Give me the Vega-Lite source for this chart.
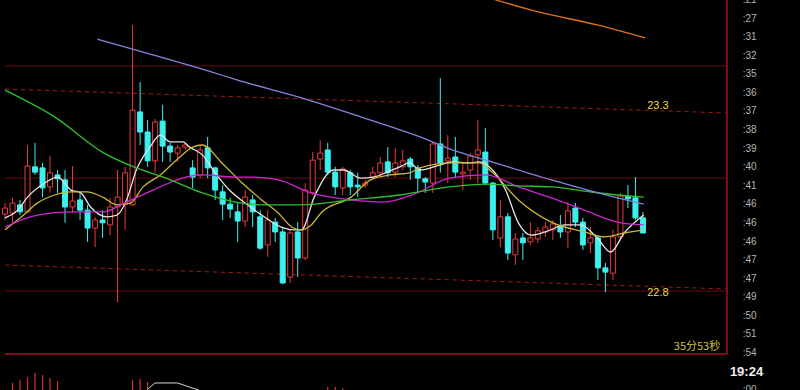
{
  "$schema": "https://vega.github.io/schema/vega-lite/v6.json",
  "width": 800,
  "height": 390,
  "autosize": {"type": "none"},
  "padding": 0,
  "background": "#000000",
  "config": {"view": {"stroke": null}},
  "datasets": {
    "candles": [
      {"i":0,"o":23.007,"c":23.024,"h":23.038,"l":22.990,"d":"up"},
      {"i":1,"o":23.010,"c":23.038,"h":23.053,"l":22.982,"d":"up"},
      {"i":2,"o":23.033,"c":23.013,"h":23.047,"l":23.004,"d":"down"},
      {"i":3,"o":23.013,"c":23.143,"h":23.203,"l":23.010,"d":"up"},
      {"i":4,"o":23.141,"c":23.126,"h":23.209,"l":23.118,"d":"down"},
      {"i":5,"o":23.138,"c":23.081,"h":23.152,"l":23.055,"d":"down"},
      {"i":6,"o":23.084,"c":23.124,"h":23.172,"l":23.067,"d":"up"},
      {"i":7,"o":23.118,"c":23.107,"h":23.132,"l":23.067,"d":"down"},
      {"i":8,"o":23.104,"c":23.027,"h":23.132,"l":22.982,"d":"down"},
      {"i":9,"o":23.027,"c":23.044,"h":23.143,"l":23.010,"d":"up"},
      {"i":10,"o":23.047,"c":23.018,"h":23.067,"l":22.990,"d":"down"},
      {"i":11,"o":23.018,"c":22.967,"h":23.033,"l":22.928,"d":"down"},
      {"i":12,"o":22.967,"c":22.990,"h":22.999,"l":22.913,"d":"up"},
      {"i":13,"o":22.990,"c":22.982,"h":23.018,"l":22.939,"d":"down"},
      {"i":14,"o":22.976,"c":23.027,"h":23.053,"l":22.947,"d":"up"},
      {"i":15,"o":23.027,"c":23.055,"h":23.132,"l":22.757,"d":"up"},
      {"i":16,"o":23.035,"c":23.124,"h":23.141,"l":22.962,"d":"up"},
      {"i":17,"o":23.033,"c":23.302,"h":23.544,"l":23.030,"d":"up"},
      {"i":18,"o":23.297,"c":23.240,"h":23.382,"l":23.203,"d":"down"},
      {"i":19,"o":23.240,"c":23.158,"h":23.274,"l":23.141,"d":"down"},
      {"i":20,"o":23.158,"c":23.268,"h":23.277,"l":23.124,"d":"up"},
      {"i":21,"o":23.271,"c":23.200,"h":23.317,"l":23.155,"d":"down"},
      {"i":22,"o":23.200,"c":23.183,"h":23.209,"l":23.155,"d":"down"},
      {"i":23,"o":23.180,"c":23.195,"h":23.203,"l":23.155,"d":"up"},
      {"i":24,"o":23.197,"c":23.203,"h":23.209,"l":23.189,"d":"up"},
      {"i":25,"o":23.138,"c":23.112,"h":23.160,"l":23.081,"d":"down"},
      {"i":26,"o":23.118,"c":23.189,"h":23.203,"l":23.109,"d":"up"},
      {"i":27,"o":23.195,"c":23.138,"h":23.226,"l":23.109,"d":"down"},
      {"i":28,"o":23.138,"c":23.075,"h":23.141,"l":23.047,"d":"down"},
      {"i":29,"o":23.070,"c":23.035,"h":23.089,"l":22.990,"d":"down"},
      {"i":30,"o":23.035,"c":23.021,"h":23.053,"l":22.996,"d":"down"},
      {"i":31,"o":23.013,"c":22.987,"h":23.038,"l":22.928,"d":"down"},
      {"i":32,"o":22.987,"c":23.055,"h":23.075,"l":22.970,"d":"up"},
      {"i":33,"o":23.047,"c":23.013,"h":23.061,"l":22.970,"d":"down"},
      {"i":34,"o":22.999,"c":22.910,"h":23.018,"l":22.905,"d":"down"},
      {"i":35,"o":22.919,"c":22.990,"h":23.018,"l":22.885,"d":"up"},
      {"i":36,"o":22.984,"c":22.956,"h":22.996,"l":22.928,"d":"down"},
      {"i":37,"o":22.956,"c":22.811,"h":22.967,"l":22.808,"d":"down"},
      {"i":38,"o":22.828,"c":22.953,"h":22.962,"l":22.811,"d":"up"},
      {"i":39,"o":22.956,"c":22.882,"h":22.984,"l":22.828,"d":"down"},
      {"i":40,"o":22.882,"c":23.075,"h":23.095,"l":22.876,"d":"up"},
      {"i":41,"o":23.067,"c":23.160,"h":23.183,"l":23.061,"d":"up"},
      {"i":42,"o":23.163,"c":23.180,"h":23.217,"l":23.132,"d":"up"},
      {"i":43,"o":23.189,"c":23.126,"h":23.209,"l":23.118,"d":"down"},
      {"i":44,"o":23.126,"c":23.084,"h":23.141,"l":23.061,"d":"down"},
      {"i":45,"o":23.081,"c":23.135,"h":23.141,"l":23.061,"d":"up"},
      {"i":46,"o":23.124,"c":23.084,"h":23.132,"l":23.061,"d":"down"},
      {"i":47,"o":23.089,"c":23.084,"h":23.124,"l":23.055,"d":"down"},
      {"i":48,"o":23.089,"c":23.095,"h":23.104,"l":23.081,"d":"up"},
      {"i":49,"o":23.112,"c":23.124,"h":23.141,"l":23.104,"d":"up"},
      {"i":50,"o":23.124,"c":23.152,"h":23.169,"l":23.112,"d":"up"},
      {"i":51,"o":23.155,"c":23.124,"h":23.197,"l":23.112,"d":"down"},
      {"i":52,"o":23.126,"c":23.152,"h":23.195,"l":23.112,"d":"up"},
      {"i":53,"o":23.141,"c":23.158,"h":23.189,"l":23.132,"d":"up"},
      {"i":54,"o":23.163,"c":23.141,"h":23.169,"l":23.104,"d":"down"},
      {"i":55,"o":23.138,"c":23.109,"h":23.146,"l":23.070,"d":"down"},
      {"i":56,"o":23.107,"c":23.098,"h":23.112,"l":23.067,"d":"down"},
      {"i":57,"o":23.095,"c":23.206,"h":23.212,"l":23.067,"d":"up"},
      {"i":58,"o":23.206,"c":23.152,"h":23.393,"l":23.124,"d":"down"},
      {"i":59,"o":23.158,"c":23.166,"h":23.231,"l":23.095,"d":"up"},
      {"i":60,"o":23.169,"c":23.126,"h":23.226,"l":23.109,"d":"down"},
      {"i":61,"o":23.121,"c":23.126,"h":23.152,"l":23.075,"d":"up"},
      {"i":62,"o":23.132,"c":23.172,"h":23.180,"l":23.104,"d":"up"},
      {"i":63,"o":23.175,"c":23.189,"h":23.274,"l":23.095,"d":"up"},
      {"i":64,"o":23.183,"c":23.095,"h":23.251,"l":23.089,"d":"down"},
      {"i":65,"o":23.095,"c":22.962,"h":23.098,"l":22.933,"d":"down"},
      {"i":66,"o":22.939,"c":22.999,"h":23.047,"l":22.913,"d":"up"},
      {"i":67,"o":22.999,"c":22.896,"h":23.010,"l":22.876,"d":"down"},
      {"i":68,"o":22.891,"c":22.936,"h":22.953,"l":22.862,"d":"up"},
      {"i":69,"o":22.939,"c":22.925,"h":22.953,"l":22.876,"d":"down"},
      {"i":70,"o":22.928,"c":22.939,"h":22.984,"l":22.919,"d":"up"},
      {"i":71,"o":22.936,"c":22.959,"h":22.970,"l":22.925,"d":"up"},
      {"i":72,"o":22.956,"c":22.970,"h":22.984,"l":22.942,"d":"up"},
      {"i":73,"o":22.962,"c":22.979,"h":22.990,"l":22.933,"d":"up"},
      {"i":74,"o":22.973,"c":22.956,"h":23.004,"l":22.939,"d":"down"},
      {"i":75,"o":22.956,"c":23.016,"h":23.041,"l":22.910,"d":"up"},
      {"i":76,"o":23.024,"c":22.984,"h":23.038,"l":22.970,"d":"down"},
      {"i":77,"o":22.984,"c":22.919,"h":22.996,"l":22.905,"d":"down"},
      {"i":78,"o":22.925,"c":22.939,"h":22.970,"l":22.896,"d":"up"},
      {"i":79,"o":22.939,"c":22.854,"h":22.947,"l":22.820,"d":"down"},
      {"i":80,"o":22.854,"c":22.842,"h":22.868,"l":22.785,"d":"down"},
      {"i":81,"o":22.839,"c":22.942,"h":22.962,"l":22.820,"d":"up"},
      {"i":82,"o":22.942,"c":23.058,"h":23.067,"l":22.933,"d":"up"},
      {"i":83,"o":23.058,"c":23.050,"h":23.089,"l":23.024,"d":"down"},
      {"i":84,"o":23.053,"c":22.996,"h":23.112,"l":22.990,"d":"down"},
      {"i":85,"o":22.996,"c":22.953,"h":23.013,"l":22.953,"d":"down"}
    ],
    "ma": [
      {"s":"MA5","i":0,"v":22.996},{"s":"MA5","i":1.7,"v":23.018},{"s":"MA5","i":3.0,"v":23.055},{"s":"MA5","i":5.3,"v":23.095},
      {"s":"MA5","i":7.0,"v":23.112},{"s":"MA5","i":8.8,"v":23.075},{"s":"MA5","i":10.1,"v":23.067},{"s":"MA5","i":11.4,"v":23.027},
      {"s":"MA5","i":13.6,"v":22.999},{"s":"MA5","i":14.9,"v":23.004},{"s":"MA5","i":16.2,"v":23.047},{"s":"MA5","i":17.5,"v":23.132},
      {"s":"MA5","i":19.3,"v":23.197},{"s":"MA5","i":20.7,"v":23.231},{"s":"MA5","i":22.0,"v":23.212},{"s":"MA5","i":23.7,"v":23.212},
      {"s":"MA5","i":24.6,"v":23.197},{"s":"MA5","i":26.3,"v":23.175},{"s":"MA5","i":28.0,"v":23.124},{"s":"MA5","i":29.9,"v":23.075},
      {"s":"MA5","i":32.0,"v":23.038},{"s":"MA5","i":34.2,"v":23.004},{"s":"MA5","i":36.8,"v":22.970},{"s":"MA5","i":38.6,"v":22.962},
      {"s":"MA5","i":39.5,"v":22.962},{"s":"MA5","i":41.2,"v":23.055},{"s":"MA5","i":43.8,"v":23.132},{"s":"MA5","i":45.1,"v":23.132},
      {"s":"MA5","i":47.4,"v":23.109},{"s":"MA5","i":49.1,"v":23.112},{"s":"MA5","i":50.9,"v":23.126},{"s":"MA5","i":52.6,"v":23.141},
      {"s":"MA5","i":53.9,"v":23.152},{"s":"MA5","i":55.3,"v":23.132},{"s":"MA5","i":57.9,"v":23.146},{"s":"MA5","i":59.6,"v":23.155},
      {"s":"MA5","i":61.8,"v":23.152},{"s":"MA5","i":63.2,"v":23.155},{"s":"MA5","i":64.5,"v":23.141},{"s":"MA5","i":66.7,"v":23.075},
      {"s":"MA5","i":68.4,"v":22.982},{"s":"MA5","i":70.1,"v":22.947},{"s":"MA5","i":72.0,"v":22.956},{"s":"MA5","i":74.6,"v":22.976},
      {"s":"MA5","i":76.7,"v":22.976},{"s":"MA5","i":78.9,"v":22.939},{"s":"MA5","i":80.7,"v":22.899},{"s":"MA5","i":82.5,"v":22.953},
      {"s":"MA5","i":85.1,"v":23.004},
      {"s":"MA10","i":0,"v":22.962},{"s":"MA10","i":2.2,"v":22.999},{"s":"MA10","i":4.3,"v":23.038},{"s":"MA10","i":6.6,"v":23.061},
      {"s":"MA10","i":8.8,"v":23.070},{"s":"MA10","i":10.9,"v":23.070},{"s":"MA10","i":13.2,"v":23.053},{"s":"MA10","i":14.9,"v":23.033},
      {"s":"MA10","i":16.7,"v":23.038},{"s":"MA10","i":18.4,"v":23.084},{"s":"MA10","i":20.7,"v":23.118},{"s":"MA10","i":23.3,"v":23.169},
      {"s":"MA10","i":25.0,"v":23.197},{"s":"MA10","i":26.3,"v":23.203},{"s":"MA10","i":28.9,"v":23.152},{"s":"MA10","i":31.6,"v":23.095},
      {"s":"MA10","i":34.2,"v":23.047},{"s":"MA10","i":36.4,"v":23.010},{"s":"MA10","i":38.2,"v":22.970},{"s":"MA10","i":39.5,"v":22.962},
      {"s":"MA10","i":40.8,"v":22.976},{"s":"MA10","i":42.1,"v":23.010},{"s":"MA10","i":46.1,"v":23.055},{"s":"MA10","i":48.7,"v":23.104},
      {"s":"MA10","i":51.3,"v":23.118},{"s":"MA10","i":53.9,"v":23.124},{"s":"MA10","i":55.3,"v":23.138},{"s":"MA10","i":59.6,"v":23.152},
      {"s":"MA10","i":63.2,"v":23.152},{"s":"MA10","i":64.9,"v":23.126},{"s":"MA10","i":68.4,"v":23.047},{"s":"MA10","i":72.8,"v":22.984},
      {"s":"MA10","i":77.2,"v":22.956},{"s":"MA10","i":79.9,"v":22.942},{"s":"MA10","i":82.5,"v":22.953},{"s":"MA10","i":85.1,"v":22.962},
      {"s":"MA20","i":0,"v":22.970},{"s":"MA20","i":4.3,"v":23.004},{"s":"MA20","i":8.8,"v":23.013},{"s":"MA20","i":13.2,"v":23.013},
      {"s":"MA20","i":15.4,"v":23.033},{"s":"MA20","i":19.7,"v":23.075},{"s":"MA20","i":24.1,"v":23.112},{"s":"MA20","i":26.3,"v":23.118},
      {"s":"MA20","i":30.7,"v":23.112},{"s":"MA20","i":32.9,"v":23.112},{"s":"MA20","i":36.4,"v":23.104},{"s":"MA20","i":40.8,"v":23.067},
      {"s":"MA20","i":46.1,"v":23.047},{"s":"MA20","i":50.4,"v":23.041},{"s":"MA20","i":54.9,"v":23.067},{"s":"MA20","i":59.2,"v":23.109},
      {"s":"MA20","i":64.1,"v":23.118},{"s":"MA20","i":68.4,"v":23.084},{"s":"MA20","i":72.8,"v":23.053},{"s":"MA20","i":77.2,"v":23.018},
      {"s":"MA20","i":81.6,"v":22.984},{"s":"MA20","i":85.1,"v":22.976},
      {"s":"MA30","i":0,"v":23.359},{"s":"MA30","i":6.6,"v":23.283},{"s":"MA30","i":13.2,"v":23.180},{"s":"MA30","i":17.5,"v":23.138},
      {"s":"MA30","i":21.1,"v":23.112},{"s":"MA30","i":26.3,"v":23.067},{"s":"MA30","i":30.7,"v":23.041},{"s":"MA30","i":35.1,"v":23.033},
      {"s":"MA30","i":39.5,"v":23.033},{"s":"MA30","i":46.1,"v":23.047},{"s":"MA30","i":52.6,"v":23.061},{"s":"MA30","i":59.2,"v":23.084},
      {"s":"MA30","i":64.1,"v":23.092},{"s":"MA30","i":68.4,"v":23.087},{"s":"MA30","i":72.8,"v":23.084},{"s":"MA30","i":77.2,"v":23.072},
      {"s":"MA30","i":81.6,"v":23.061},{"s":"MA30","i":85.1,"v":23.055},
      {"s":"MA60","i":12.3,"v":23.504},{"s":"MA60","i":19.7,"v":23.459},{"s":"MA60","i":27.6,"v":23.410},{"s":"MA60","i":30.9,"v":23.388},
      {"s":"MA60","i":39.5,"v":23.337},{"s":"MA60","i":47.4,"v":23.283},{"s":"MA60","i":55.3,"v":23.226},{"s":"MA60","i":59.6,"v":23.189},
      {"s":"MA60","i":64.1,"v":23.160},{"s":"MA60","i":72.8,"v":23.104},{"s":"MA60","i":81.6,"v":23.053},{"s":"MA60","i":85.1,"v":23.035},
      {"s":"MA120","i":64.5,"v":23.621},{"s":"MA120","i":71.1,"v":23.581},{"s":"MA120","i":78.9,"v":23.544},{"s":"MA120","i":85.3,"v":23.507}
    ],
    "hlines": [
      {"i0":0,"i1":96.2,"v0":23.428,"v1":23.428},
      {"i0":0,"i1":96.2,"v0":23.109,"v1":23.109},
      {"i0":0,"i1":96.2,"v0":22.788,"v1":22.788}
    ],
    "frame": [
      {"i0":0,"i1":96.2,"v0":22.609,"v1":22.609},
      {"i0":96.2,"i1":96.2,"v0":23.615,"v1":22.609}
    ],
    "dlines": [
      {"i0":0,"i1":96.1,"v0":23.362,"v1":23.294},
      {"i0":0,"i1":96.1,"v0":22.862,"v1":22.794}
    ],
    "volume": [
      {"i":1,"vol":18},{"i":2,"vol":26},{"i":3,"vol":33},{"i":4,"vol":44},{"i":5,"vol":38},{"i":6,"vol":31},{"i":7,"vol":23},
      {"i":17,"vol":26},{"i":18,"vol":28},{"i":19,"vol":21},
      {"i":43,"vol":8},{"i":44,"vol":8},{"i":45,"vol":5}
    ],
    "volma": [
      {"i":19,"vol":2},{"i":20,"vol":18},{"i":23,"vol":18},{"i":24.5,"vol":8},{"i":25.8,"vol":0}
    ],
    "notes": [
      {"t":"23.3","i":87.0,"v":23.314},
      {"t":"22.8","i":87.0,"v":22.783}
    ],
    "timer": [
      {"t":"35分53秒","i":92.2,"v":22.629}
    ],
    "times": [
      {"k":0,"t":":21"},{"k":1,"t":":27"},{"k":2,"t":":31"},{"k":3,"t":":32"},{"k":4,"t":":35"},{"k":5,"t":":36"},
      {"k":6,"t":":37"},{"k":7,"t":":38"},{"k":8,"t":":39"},{"k":9,"t":":40"},{"k":10,"t":":41"},{"k":11,"t":":46"},
      {"k":12,"t":":46"},{"k":13,"t":":46"},{"k":14,"t":":47"},{"k":15,"t":":47"},{"k":16,"t":":49"},{"k":17,"t":":50"},
      {"k":18,"t":":51"},{"k":19,"t":":54"},{"k":21,"t":":00"}
    ],
    "now": [
      {"k":20,"t":"19:24"}
    ]
  },
  "layer": [
    {
      "data": {"name": "hlines"},
      "mark": {"type": "rule", "color": "#6a0c0c", "strokeWidth": 1},
      "encoding": {
        "x": {"field": "i0", "type": "quantitative", "scale": {"domain": [0, 105.26], "nice": false, "zero": false}, "axis": null},
        "x2": {"field": "i1"},
        "y": {"field": "v0", "type": "quantitative", "scale": {"domain": [22.507, 23.615], "nice": false, "zero": false}, "axis": null},
        "y2": {"field": "v1"}
      }
    },
    {
      "data": {"name": "dlines"},
      "mark": {"type": "rule", "color": "#a81818", "strokeWidth": 1, "strokeDash": [4, 4]},
      "encoding": {
        "x": {"field": "i0", "type": "quantitative", "scale": {"domain": [0, 105.26], "nice": false, "zero": false}, "axis": null},
        "x2": {"field": "i1"},
        "y": {"field": "v0", "type": "quantitative", "scale": {"domain": [22.507, 23.615], "nice": false, "zero": false}, "axis": null},
        "y2": {"field": "v1"}
      }
    },
    {
      "data": {"name": "frame"},
      "mark": {"type": "rule", "color": "#a01020", "strokeWidth": 1.5},
      "encoding": {
        "x": {"field": "i0", "type": "quantitative", "scale": {"domain": [0, 105.26], "nice": false, "zero": false}, "axis": null},
        "x2": {"field": "i1"},
        "y": {"field": "v0", "type": "quantitative", "scale": {"domain": [22.507, 23.615], "nice": false, "zero": false}, "axis": null},
        "y2": {"field": "v1"}
      }
    },
    {
      "data": {"name": "volume"},
      "mark": {"type": "rule", "color": "#d83030", "strokeWidth": 1.2},
      "encoding": {
        "x": {"field": "i", "type": "quantitative", "scale": {"domain": [0, 105.26], "nice": false, "zero": false}, "axis": null},
        "y": {"field": "vol", "type": "quantitative", "scale": {"domain": [0, 1000], "nice": false, "zero": false}, "axis": null},
        "y2": {"datum": 0}
      }
    },
    {
      "data": {"name": "volma"},
      "mark": {"type": "line", "color": "#d8d8d8", "strokeWidth": 1},
      "encoding": {
        "x": {"field": "i", "type": "quantitative", "scale": {"domain": [0, 105.26], "nice": false, "zero": false}, "axis": null},
        "y": {"field": "vol", "type": "quantitative", "scale": {"domain": [0, 1000], "nice": false, "zero": false}, "axis": null}
      }
    },
    {
      "data": {"name": "candles"},
      "mark": {"type": "rule", "strokeWidth": 1},
      "encoding": {
        "x": {"field": "i", "type": "quantitative", "scale": {"domain": [0, 105.26], "nice": false, "zero": false}, "axis": null},
        "y": {"field": "l", "type": "quantitative", "scale": {"domain": [22.507, 23.615], "nice": false, "zero": false}, "axis": null},
        "y2": {"field": "h"},
        "color": {"field": "d", "type": "nominal", "scale": {"domain": ["up", "down"], "range": ["#e83a3a", "#3cf0f0"]}, "legend": null}
      }
    },
    {
      "data": {"name": "candles"},
      "mark": {"type": "bar", "width": 5, "strokeWidth": 1},
      "encoding": {
        "x": {"field": "i", "type": "quantitative", "scale": {"domain": [0, 105.26], "nice": false, "zero": false}, "axis": null},
        "y": {"field": "o", "type": "quantitative", "scale": {"domain": [22.507, 23.615], "nice": false, "zero": false}, "axis": null},
        "y2": {"field": "c"},
        "fill": {"field": "d", "type": "nominal", "scale": {"domain": ["up", "down"], "range": ["#000000", "#3cf0f0"]}, "legend": null},
        "stroke": {"field": "d", "type": "nominal", "scale": {"domain": ["up", "down"], "range": ["#e83a3a", "#3cf0f0"]}, "legend": null}
      }
    },
    {
      "data": {"name": "ma"},
      "mark": {"type": "line", "strokeWidth": 1.3, "clip": true, "interpolate": "monotone"},
      "encoding": {
        "x": {"field": "i", "type": "quantitative", "scale": {"domain": [0, 105.26], "nice": false, "zero": false}, "axis": null},
        "y": {"field": "v", "type": "quantitative", "scale": {"domain": [22.507, 23.615], "nice": false, "zero": false}, "axis": null},
        "color": {"field": "s", "type": "nominal", "scale": {"domain": ["MA5", "MA10", "MA20", "MA30", "MA60", "MA120"], "range": ["#e4e4e4", "#c8b838", "#d024d0", "#2ec02e", "#8484dc", "#e0701c"]}, "legend": null},
        "order": {"field": "i", "type": "quantitative"}
      }
    },
    {
      "data": {"name": "notes"},
      "mark": {"type": "text", "font": "Liberation Sans", "fontSize": 11, "color": "#ecdc50", "align": "center", "baseline": "middle"},
      "encoding": {
        "x": {"field": "i", "type": "quantitative", "scale": {"domain": [0, 105.26], "nice": false, "zero": false}, "axis": null},
        "y": {"field": "v", "type": "quantitative", "scale": {"domain": [22.507, 23.615], "nice": false, "zero": false}, "axis": null},
        "text": {"field": "t"}
      }
    },
    {
      "data": {"name": "timer"},
      "mark": {"type": "text", "font": "Noto Sans CJK SC", "fontSize": 11, "color": "#d0c040", "align": "center", "baseline": "middle"},
      "encoding": {
        "x": {"field": "i", "type": "quantitative", "scale": {"domain": [0, 105.26], "nice": false, "zero": false}, "axis": null},
        "y": {"field": "v", "type": "quantitative", "scale": {"domain": [22.507, 23.615], "nice": false, "zero": false}, "axis": null},
        "text": {"field": "t"}
      }
    },
    {
      "data": {"name": "times"},
      "mark": {"type": "text", "font": "Liberation Sans", "fontSize": 10, "color": "#b4b4b4", "align": "left", "baseline": "middle"},
      "encoding": {
        "x": {"datum": 98.3, "type": "quantitative", "scale": {"domain": [0, 105.26], "nice": false, "zero": false}, "axis": null},
        "y": {"field": "k", "type": "quantitative", "scale": {"domain": [0, 20.99], "reverse": true, "nice": false, "zero": false}, "axis": null},
        "text": {"field": "t"}
      }
    },
    {
      "data": {"name": "now"},
      "mark": {"type": "text", "font": "Liberation Sans", "fontSize": 13, "fontWeight": "bold", "color": "#f0f0f0", "align": "center", "baseline": "middle"},
      "encoding": {
        "x": {"datum": 98.8, "type": "quantitative", "scale": {"domain": [0, 105.26], "nice": false, "zero": false}, "axis": null},
        "y": {"field": "k", "type": "quantitative", "scale": {"domain": [0, 20.99], "reverse": true, "nice": false, "zero": false}, "axis": null},
        "text": {"field": "t"}
      }
    }
  ],
  "resolve": {"scale": {"y": "independent", "color": "independent", "fill": "independent", "stroke": "independent"}}
}
